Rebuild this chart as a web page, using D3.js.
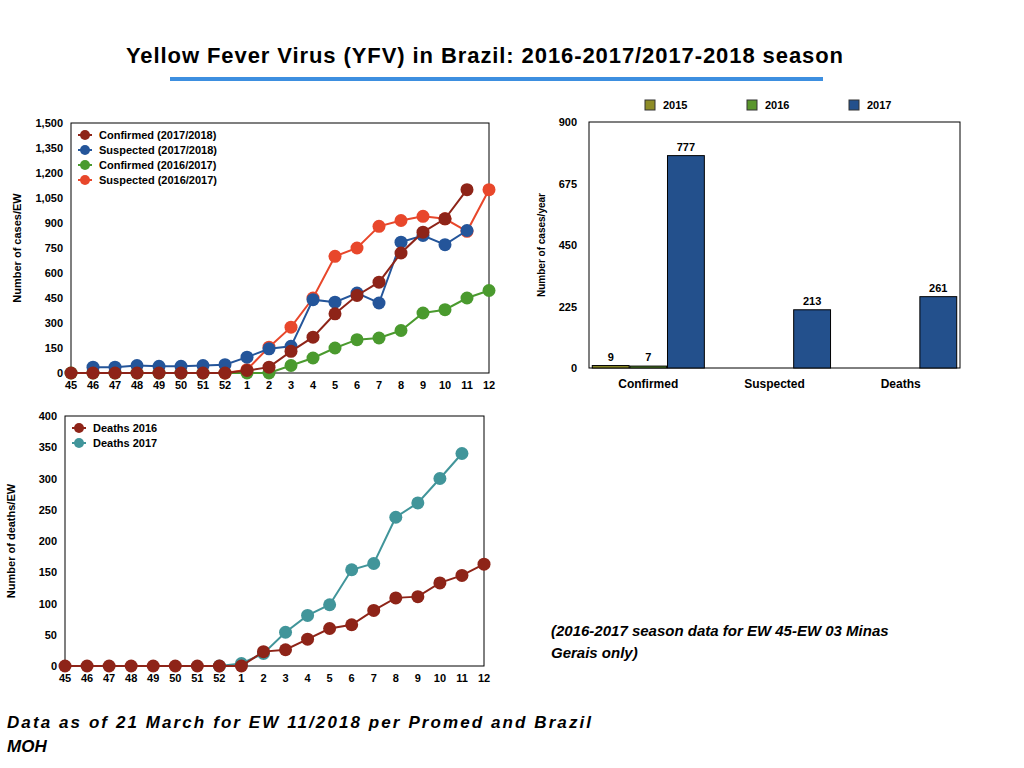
<!DOCTYPE html>
<html><head><meta charset="utf-8">
<script src="https://cdn.jsdelivr.net/npm/d3@7"></script>
<style>body{margin:0;background:#fff;font-family:"Liberation Sans",Arial,sans-serif}</style>
</head><body>
<svg id="c" width="1024" height="768"></svg>
<script>
// epidemiological weeks
const weeks = ["45","46","47","48","49","50","51","52","1","2","3","4","5","6","7","8","9","10","11","12"];
// cases per EW (null = no point)
const confirmed1718 = [0,0,0,0,0,0,0,0,15,35,130,215,355,465,545,720,845,925,1100,null];
const suspected1718 = [null,35,35,45,40,40,45,50,95,145,160,440,425,480,420,785,825,770,855,null];
const confirmed1617 = [0,0,0,0,0,0,0,0,0,0,45,90,150,200,210,255,360,380,450,495];
const suspected1617 = [null,null,null,null,null,null,null,0,20,155,275,450,700,750,880,915,940,925,850,1100];
const caseTicks = [0,150,300,450,600,750,900,1050,1200,1350,1500];
// deaths per EW
const deaths2016 = [0,0,0,0,0,0,0,0,0,23,26,43,60,66,89,109,111,133,145,163];
const deaths2017 = [null,null,null,null,null,null,null,0,4,20,54,81,98,154,164,238,261,300,340,null];
const deathTicks = [0,50,100,150,200,250,300,350,400];
// yearly totals
const barCats = ["Confirmed","Suspected","Deaths"];
const barYears = ["2015","2016","2017"];
const bars2015 = [9,null,null];
const bars2016 = [7,null,null];
const bars2017 = [777,213,261];
const barTicks = [0,225,450,675,900];

const svg = d3.select("#c");
svg.append("text").attr("x",126).attr("y",63).attr("textLength",717)
  .attr("font-size",22).attr("font-weight","bold").text("Yellow Fever Virus (YFV) in Brazil: 2016-2017/2017-2018 season");
svg.append("rect").attr("x",170).attr("y",77).attr("width",653).attr("height",4).attr("fill","#3d8fe0");

// series listed in legend order; drawOrder decides which sits on top
function lineChart(box, series, drawOrder, ticks, ymax, ylabel) {
  const g = svg.append("g");
  const x = d3.scalePoint().domain(weeks).range([box.l, box.r]);
  const y = d3.scaleLinear().domain([0, ymax]).range([box.b, box.t]);
  g.append("rect").attr("x",box.l).attr("y",box.t).attr("width",box.r-box.l).attr("height",box.b-box.t)
    .attr("fill","none").attr("stroke","#000");
  g.selectAll(".yt").data(ticks).join("text").attr("x",box.l-8).attr("y",d=>y(d)+4)
    .attr("text-anchor","end").attr("font-size",11).attr("font-weight","bold").text(d3.format(","));
  g.selectAll(".xt").data(weeks).join("text").attr("x",d=>x(d)).attr("y",box.b+16)
    .attr("text-anchor","middle").attr("font-size",11).attr("font-weight","bold").text(d=>d);
  g.append("text").attr("transform",`translate(${box.l-50},${(box.t+box.b)/2}) rotate(-90)`)
    .attr("text-anchor","middle").attr("font-size",11).attr("font-weight","bold").text(ylabel);
  const line = d3.line().defined(d=>d.v!=null).x(d=>x(d.w)).y(d=>y(d.v));
  drawOrder.forEach(k => {
    const s = series[k];
    const pts = s.vals.map((v,i)=>({w:weeks[i],v}));
    g.append("path").attr("d",line(pts)).attr("fill","none").attr("stroke",s.color).attr("stroke-width",2);
    g.selectAll(null).data(pts.filter(d=>d.v!=null)).join("circle")
      .attr("cx",d=>x(d.w)).attr("cy",d=>y(d.v)).attr("r",6.5).attr("fill",s.color);
  });
  series.forEach((s,i) => {
    const ly = box.t + 12 + i*15;
    g.append("circle").attr("cx",box.l+14).attr("cy",ly).attr("r",5).attr("fill",s.color);
    g.append("line").attr("x1",box.l+7).attr("x2",box.l+21).attr("y1",ly).attr("y2",ly).attr("stroke",s.color).attr("stroke-width",2);
    g.append("text").attr("x",box.l+28).attr("y",ly+4).attr("font-size",11).attr("font-weight","bold").text(s.name);
  });
}

lineChart({l:71,r:489,t:123,b:373}, [
  {name:"Confirmed (2017/2018)",vals:confirmed1718,color:"#8e2418"},
  {name:"Suspected (2017/2018)",vals:suspected1718,color:"#24559a"},
  {name:"Confirmed (2016/2017)",vals:confirmed1617,color:"#4a9a2e"},
  {name:"Suspected (2016/2017)",vals:suspected1617,color:"#e8472b"}
], [2,3,1,0], caseTicks, 1500, "Number of cases/EW");

lineChart({l:65,r:484,t:416,b:666}, [
  {name:"Deaths 2016",vals:deaths2016,color:"#8e2418"},
  {name:"Deaths 2017",vals:deaths2017,color:"#41959a"}
], [1,0], deathTicks, 400, "Number of deaths/EW");

// bar chart
(function(){
  const box = {l:589,r:960,t:122,b:368};
  const colors = {"2015":"#8d8c27","2016":"#5a962c","2017":"#23508c"};
  const data = {"2015":bars2015,"2016":bars2016,"2017":bars2017};
  const g = svg.append("g");
  const x0 = d3.scaleBand().domain(barCats).range([box.l, box.r]).paddingInner(0.1).paddingOuter(0.02);
  const x1 = d3.scaleBand().domain(barYears).range([0, x0.bandwidth()]).padding(0.02);
  const y = d3.scaleLinear().domain([0,900]).range([box.b, box.t]);
  g.append("rect").attr("x",box.l).attr("y",box.t).attr("width",box.r-box.l).attr("height",box.b-box.t)
    .attr("fill","none").attr("stroke","#000");
  g.selectAll(".yt").data(barTicks).join("text").attr("x",box.l-12).attr("y",d=>y(d)+4)
    .attr("text-anchor","end").attr("font-size",11).attr("font-weight","bold").text(d=>d);
  g.selectAll(".xt").data(barCats).join("text").attr("x",d=>x0(d)+x0.bandwidth()/2).attr("y",box.b+20)
    .attr("text-anchor","middle").attr("font-size",12).attr("font-weight","bold").text(d=>d);
  g.append("text").attr("transform",`translate(${box.l-44},${(box.t+box.b)/2}) rotate(-90)`)
    .attr("text-anchor","middle").attr("font-size",10).attr("font-weight","bold").text("Number of cases/year");
  barYears.forEach(yr => {
    const pts = barCats.map((c,i)=>({c,v:data[yr][i]})).filter(d=>d.v!=null);
    g.selectAll(null).data(pts).join("rect")
      .attr("x",d=>x0(d.c)+x1(yr)).attr("y",d=>y(d.v)).attr("width",x1.bandwidth())
      .attr("height",d=>y(0)-y(d.v)).attr("fill",colors[yr]).attr("stroke","#000");
    g.selectAll(null).data(pts).join("text")
      .attr("x",d=>x0(d.c)+x1(yr)+x1.bandwidth()/2).attr("y",d=>y(d.v)-5)
      .attr("text-anchor","middle").attr("font-size",11).attr("font-weight","bold").text(d=>d.v);
  });
  barYears.forEach((yr,i) => {
    const lx = 645 + i*102;
    g.append("rect").attr("x",lx).attr("y",100).attr("width",10).attr("height",10).attr("fill",colors[yr]).attr("stroke","#333");
    g.append("text").attr("x",lx+18).attr("y",109).attr("font-size",11).attr("font-weight","bold").text(yr);
  });
})();

svg.append("text").attr("x",551).attr("y",636).attr("font-size",15).attr("font-weight","bold").attr("font-style","italic")
  .text("(2016-2017 season data for EW 45-EW 03 Minas");
svg.append("text").attr("x",551).attr("y",658).attr("font-size",15).attr("font-weight","bold").attr("font-style","italic")
  .text("Gerais only)");
svg.append("text").attr("x",7).attr("y",728).attr("font-size",17).attr("font-weight","bold").attr("font-style","italic")
  .attr("textLength",584).text("Data as of 21 March for EW 11/2018 per Promed and Brazil");
svg.append("text").attr("x",7).attr("y",752).attr("font-size",17).attr("font-weight","bold").attr("font-style","italic")
  .text("MOH");
</script>
</body></html>
